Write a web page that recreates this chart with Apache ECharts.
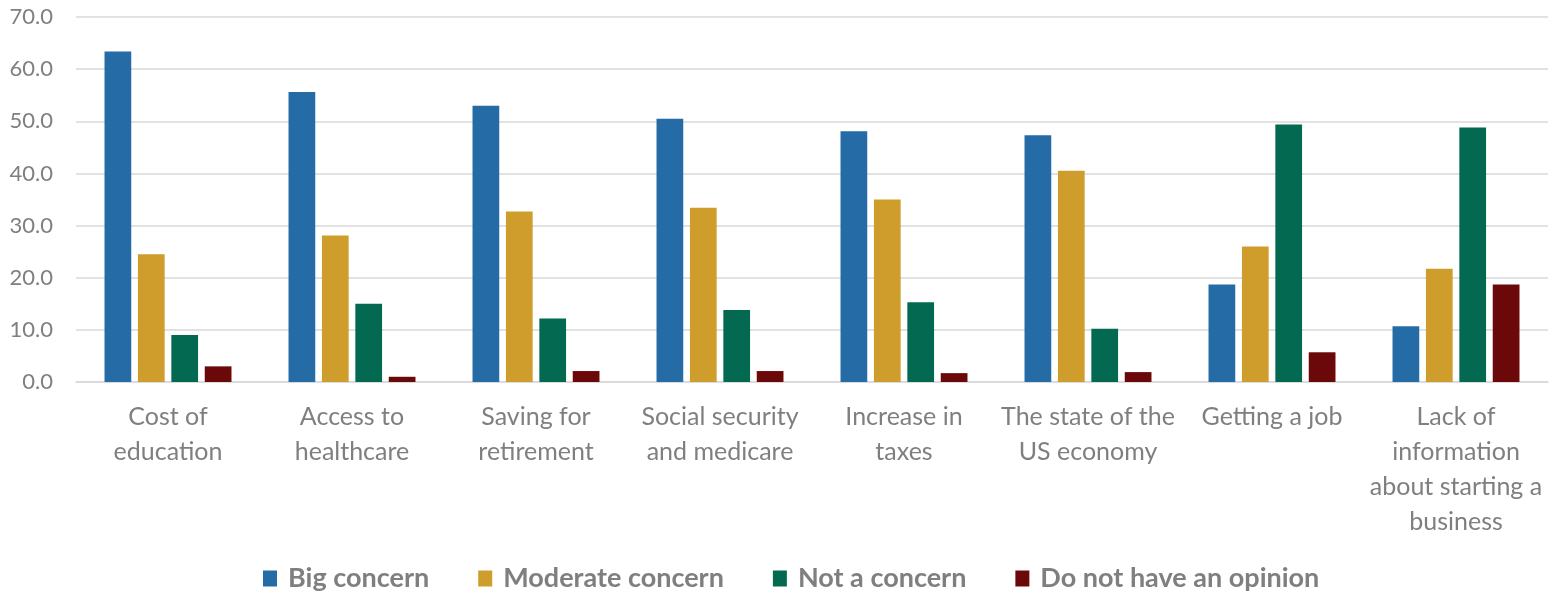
<!DOCTYPE html>
<html>
<head>
<meta charset="utf-8">
<script src="https://cdn.jsdelivr.net/npm/echarts@6/dist/echarts.min.js"></script>
<style>html,body{margin:0;padding:0;background:#fff;}#c{width:1555px;height:594px;}</style>
</head>
<body>
<div id="c"></div>
<script>
const categories = [
  "Cost of\neducation",
  "Access to\nhealthcare",
  "Saving for\nretirement",
  "Social security\nand medicare",
  "Increase in\ntaxes",
  "The state of the\nUS economy",
  "Getting a job",
  "Lack of\ninformation\nabout starting a\nbusiness"
];
const bigConcern      = [63.4, 55.6, 53.0, 50.5, 48.1, 47.3, 18.7, 10.7];
const moderateConcern = [24.5, 28.1, 32.7, 33.4, 35.0, 40.5, 26.0, 21.7];
const notAConcern     = [9.0, 15.0, 12.2, 13.8, 15.3, 10.2, 49.4, 48.8];
const noOpinion       = [3.0, 1.0, 2.1, 2.1, 1.7, 1.9, 5.7, 18.7];
const seriesNames = ["Big concern", "Moderate concern", "Not a concern", "Do not have an opinion"];
const yTicks = { min: 0, max: 70, interval: 10 };

const colors = ["#256BA5", "#CE9D2C", "#036951", "#6B080A"];
const font = "Lato, 'Open Sans', sans-serif";
const seriesData = [bigConcern, moderateConcern, notAConcern, noOpinion];

const chart = echarts.init(document.getElementById('c'), null, { renderer: 'canvas' });
chart.setOption({
  animation: false,
  backgroundColor: '#fff',
  color: colors,
  grid: { left: 76, right: 7, top: 17, bottom: 212, containLabel: false },
  legend: {
    bottom: -3,
    left: 258,
    itemWidth: 14,
    itemHeight: 16,
    itemGap: 49,
    icon: 'rect',
    textStyle: { color: '#7F7F7F', fontFamily: font, fontSize: 27, fontWeight: 'bold', padding: [0, 0, 0, 6] },
    data: seriesNames
  },
  xAxis: {
    type: 'category',
    data: categories,
    axisLine: { show: true, lineStyle: { color: '#D9D9D9', width: 1.5 } },
    axisTick: { show: false },
    axisLabel: {
      interval: 0,
      margin: 17,
      color: '#7F7F7F',
      fontFamily: font,
      fontSize: 25,
      lineHeight: 35
    }
  },
  yAxis: {
    type: 'value',
    min: yTicks.min,
    max: yTicks.max,
    interval: yTicks.interval,
    axisLine: { show: false },
    axisTick: { show: false },
    splitLine: { lineStyle: { color: '#D9D9D9', width: 1.5 } },
    axisLabel: {
      margin: 23,
      color: '#7F7F7F',
      fontFamily: font,
      fontSize: 22,
      formatter: v => v.toFixed(1)
    }
  },
  series: seriesNames.map((name, i) => ({
    name: name,
    type: 'bar',
    data: seriesData[i],
    barGap: '25%',
    barCategoryGap: '31%',
    itemStyle: { color: colors[i] }
  }))
});
</script>
</body>
</html>
